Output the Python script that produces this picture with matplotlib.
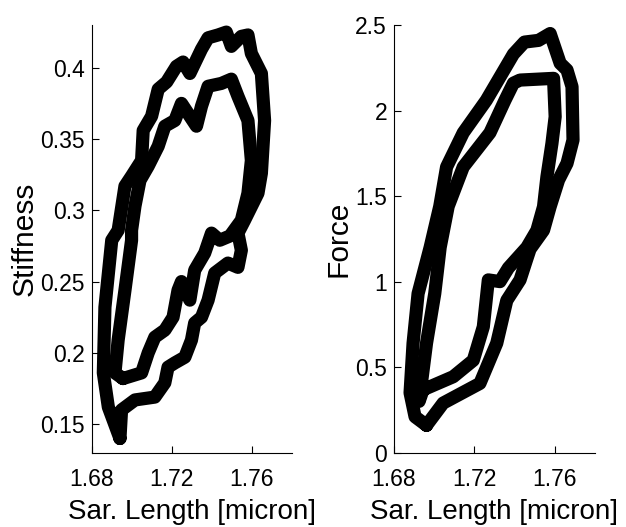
import matplotlib
matplotlib.use("Agg")
import matplotlib.pyplot as plt

plt.rcParams['font.family'] = ['Liberation Sans', 'DejaVu Sans']

#%% data
# stiffness vs sarcomere length, two cycles
stiff_x1 = [1.6941, 1.6883, 1.6858, 1.6866, 1.6900, 1.6932, 1.6966, 1.6999, 1.7049, 1.7057,
            1.7099, 1.7132, 1.7174, 1.7223, 1.7256, 1.7290, 1.7348, 1.7381, 1.7431, 1.7472,
            1.7497, 1.7547, 1.7580, 1.7597, 1.7647, 1.7663, 1.7647, 1.7630, 1.7563, 1.7530,
            1.7547, 1.7530, 1.7480, 1.7414, 1.7381, 1.7348, 1.7314, 1.7298, 1.7265, 1.7215,
            1.7181, 1.7165, 1.7115, 1.7016, 1.6949, 1.6941]
stiff_y1 = [0.140, 0.162, 0.186, 0.232, 0.279, 0.286, 0.317, 0.324, 0.335, 0.356,
            0.366, 0.385, 0.390, 0.401, 0.404, 0.396, 0.413, 0.421, 0.423, 0.425,
            0.415, 0.422, 0.423, 0.410, 0.396, 0.363, 0.326, 0.312, 0.293, 0.284,
            0.272, 0.260, 0.263, 0.256, 0.237, 0.225, 0.221, 0.209, 0.197, 0.193,
            0.190, 0.179, 0.169, 0.167, 0.160, 0.140]
stiff_x2 = [1.6956, 1.6916, 1.6932, 1.6966, 1.6999, 1.6999, 1.7016, 1.7041, 1.7082, 1.7132,
            1.7165, 1.7215, 1.7248, 1.7290, 1.7323, 1.7348, 1.7381, 1.7447, 1.7497, 1.7530,
            1.7580, 1.7597, 1.7580, 1.7547, 1.7490, 1.7439, 1.7398, 1.7364, 1.7314, 1.7290,
            1.7248, 1.7231, 1.7206, 1.7165, 1.7115, 1.7082, 1.7049, 1.6956]
stiff_y2 = [0.182, 0.186, 0.209, 0.244, 0.279, 0.286, 0.303, 0.321, 0.331, 0.345,
            0.359, 0.363, 0.375, 0.366, 0.359, 0.373, 0.387, 0.389, 0.392, 0.380,
            0.363, 0.335, 0.312, 0.293, 0.282, 0.279, 0.284, 0.270, 0.258, 0.237,
            0.250, 0.244, 0.225, 0.216, 0.211, 0.200, 0.186, 0.182]

# force vs sarcomere length, two cycles
force_x1 = [1.6962, 1.6905, 1.6880, 1.6895, 1.6920, 1.6980, 1.7028, 1.7062, 1.7145, 1.7260,
            1.7330, 1.7395, 1.7450, 1.7520, 1.7578, 1.7628, 1.7662, 1.7687, 1.7692, 1.7662,
            1.7620, 1.7578, 1.7545, 1.7478, 1.7460, 1.7428, 1.7362, 1.7312, 1.7228, 1.7045,
            1.6962]
force_y1 = [0.160, 0.210, 0.350, 0.640, 0.930, 1.200, 1.440, 1.670, 1.870, 2.060,
            2.200, 2.330, 2.400, 2.410, 2.450, 2.276, 2.237, 2.139, 1.828, 1.691,
            1.594, 1.438, 1.300, 1.190, 1.126, 1.010, 0.890, 0.640, 0.405, 0.290,
            0.160]
force_x2 = [1.6945, 1.7095, 1.7195, 1.7245, 1.7270, 1.7328, 1.7370, 1.7462, 1.7512, 1.7545,
            1.7562, 1.7587, 1.7603, 1.7595, 1.7428, 1.7395, 1.7353, 1.7278, 1.7145, 1.7070,
            1.7030, 1.7003, 1.6962, 1.6925, 1.6945]
force_y2 = [0.368, 0.444, 0.540, 0.736, 1.010, 1.000, 1.080, 1.200, 1.300, 1.438,
            1.613, 1.808, 1.964, 2.188, 2.178, 2.160, 2.060, 1.870, 1.670, 1.440,
            1.200, 0.930, 0.640, 0.300, 0.368]

xticks = [1.68, 1.72, 1.76]
stiff_ticks = [0.15, 0.2, 0.25, 0.3, 0.35, 0.4]
force_ticks = [0, 0.5, 1, 1.5, 2, 2.5]

#%% plot
fig = plt.figure(figsize=(6.26, 5.27), dpi=100)
ax1 = fig.add_axes([0.1465, 0.141, 0.32, 0.8116])
ax2 = fig.add_axes([0.6294, 0.141, 0.3206, 0.8116])

lw = 9.5
for ax, xs, ys in [(ax1, [stiff_x1, stiff_x2], [stiff_y1, stiff_y2]),
                   (ax2, [force_x1, force_x2], [force_y1, force_y2])]:
    for x, y in zip(xs, ys):
        ax.plot(x, y, color='black', lw=lw, solid_capstyle='round', solid_joinstyle='round')
    ax.spines['top'].set_visible(False)
    ax.spines['right'].set_visible(False)
    ax.spines['left'].set_linewidth(0.8)
    ax.spines['bottom'].set_linewidth(0.8)
    ax.tick_params(direction='in', length=5, width=0.8, labelsize=16.5)
    ax.tick_params(axis='x', pad=11)
    ax.tick_params(axis='y', pad=5)
    ax.set_xlim(1.68, 1.78)
    ax.set_xticks(xticks)
    ax.set_xticklabels([str(t) for t in xticks])
    ax.set_xlabel('Sar. Length [micron]', fontsize=20, labelpad=6)

ax1.set_ylim(0.13, 0.43)
ax1.set_yticks(stiff_ticks)
ax1.set_yticklabels([str(t) for t in stiff_ticks])
ax1.set_ylabel('Stiffness', fontsize=21.5, labelpad=1)

ax2.set_ylim(0, 2.5)
ax2.set_yticks(force_ticks)
ax2.set_yticklabels([str(t) for t in force_ticks])
ax2.set_ylabel('Force', fontsize=21.5, labelpad=2)

fig.savefig('out.png', dpi=100)
